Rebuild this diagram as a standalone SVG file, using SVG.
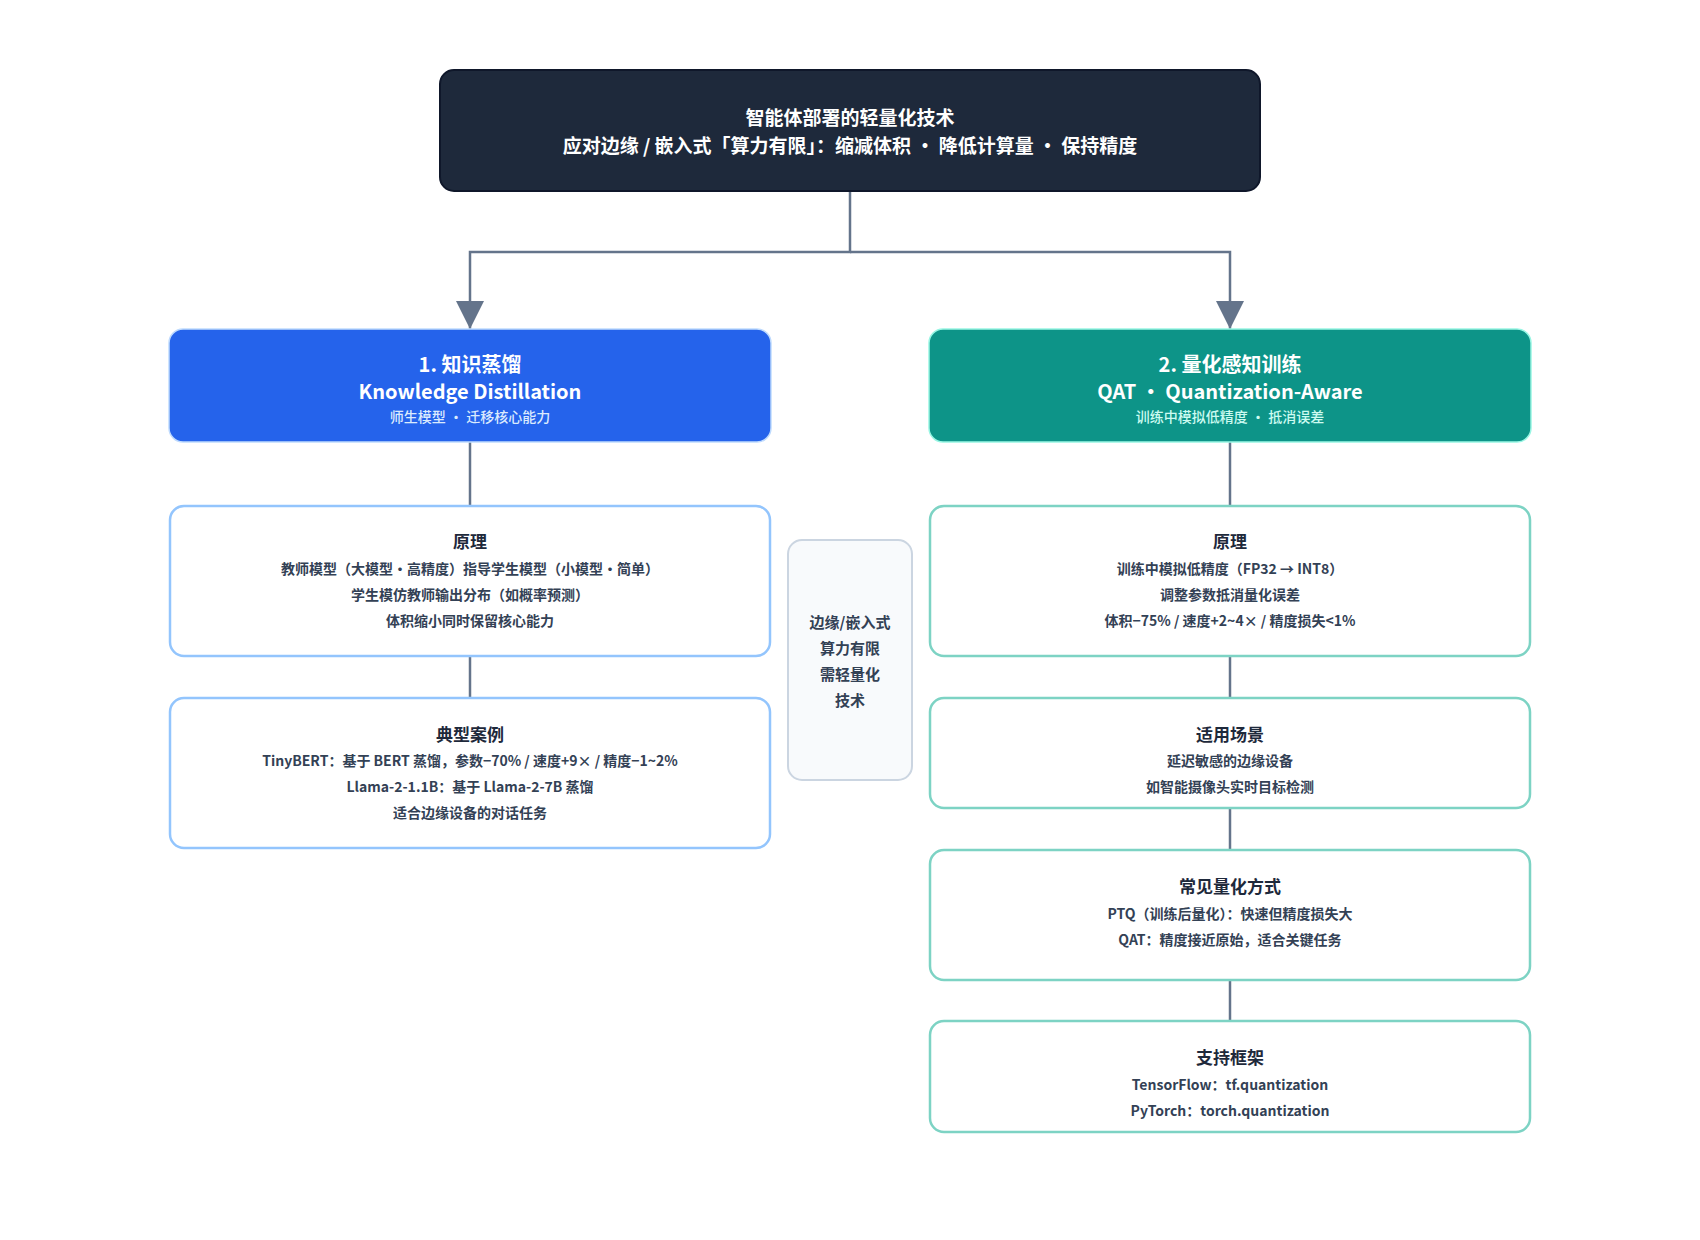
<svg xmlns="http://www.w3.org/2000/svg" width="1700" height="1240" viewBox="0 0 1700 1240">
<defs>
<marker id="arr" markerWidth="28" markerHeight="28" refX="28" refY="14" orient="auto" markerUnits="userSpaceOnUse" viewBox="0 0 28 28">
<path d="M0,0 L28,14 L0,28 Z" fill="#64748b"/>
</marker>
<style>
text{font-family:"Noto Sans CJK SC","Noto Sans",sans-serif;text-anchor:middle;dominant-baseline:central}
.top{fill:#1e293b;stroke:#0f172a;stroke-width:2}
.tt{fill:#ffffff;font-size:19px;font-weight:700}
.hl{fill:#2563eb;stroke:#bfdbfe;stroke-width:1.5}
.hr{fill:#0d9488;stroke:#99f6e4;stroke-width:1.5}
.h1{fill:#ffffff;font-size:20px;font-weight:700}
.h2{fill:#ffffff;font-size:20px;font-weight:700}
.h3l{fill:#dbeafe;font-size:14px;font-weight:500}
.h3r{fill:#ccfbf1;font-size:14px;font-weight:500}
.bl{fill:#ffffff;stroke:#93c5fd;stroke-width:2.5}
.br{fill:#ffffff;stroke:#7dd3c4;stroke-width:2.5}
.bm{fill:#f8fafc;stroke:#cbd5e1;stroke-width:2}
.ti{fill:#1e293b;font-size:17px;font-weight:700}
.tx{fill:#334155;font-size:14px;font-weight:600}
.tm{fill:#334155;font-size:15px;font-weight:600}
.c{fill:none;stroke:#64748b;stroke-width:2.5}
</style>
</defs>
<g id="connectors">
<path class="c" d="M850,191 L850,252 L470,252 L470,329" marker-end="url(#arr)"/>
<path class="c" d="M850,252 L1230,252 L1230,329" marker-end="url(#arr)"/>
<path class="c" d="M470,442 L470,505"/>
<path class="c" d="M470,656 L470,698"/>
<path class="c" d="M1230,442 L1230,505"/>
<path class="c" d="M1230,656 L1230,698"/>
<path class="c" d="M1230,808 L1230,850"/>
<path class="c" d="M1230,980 L1230,1021"/>
</g>
<g id="root">
<rect class="top" x="440" y="70" width="820" height="121" rx="14"/>
<text class="tt" x="850" y="116">智能体部署的轻量化技术</text>
<text class="tt" x="850" y="144">应对边缘 / 嵌入式「算力有限」：缩减体积 • 降低计算量 • 保持精度</text>
</g>
<g id="kd">
<rect class="hl" x="169" y="329" width="602" height="113" rx="14"/>
<text class="h1" x="470" y="363">1. 知识蒸馏</text>
<text class="h2" x="470" y="390">Knowledge Distillation</text>
<text class="h3l" x="470" y="416">师生模型 • 迁移核心能力</text>
</g>
<g id="qat">
<rect class="hr" x="929" y="329" width="602" height="113" rx="14"/>
<text class="h1" x="1230" y="363">2. 量化感知训练</text>
<text class="h2" x="1230" y="390">QAT • Quantization-Aware</text>
<text class="h3r" x="1230" y="416">训练中模拟低精度 • 抵消误差</text>
</g>
<g id="kd-principle">
<rect class="bl" x="170" y="506" width="600" height="150" rx="14"/>
<text class="ti" x="470" y="540">原理</text>
<text class="tx" x="470" y="568">教师模型（大模型・高精度）指导学生模型（小模型・简单）</text>
<text class="tx" x="470" y="594">学生模仿教师输出分布（如概率预测）</text>
<text class="tx" x="470" y="620">体积缩小同时保留核心能力</text>
</g>
<g id="kd-cases">
<rect class="bl" x="170" y="698" width="600" height="150" rx="14"/>
<text class="ti" x="470" y="733">典型案例</text>
<text class="tx" x="470" y="760">TinyBERT：基于 BERT 蒸馏，参数−70% / 速度+9× / 精度−1~2%</text>
<text class="tx" x="470" y="786">Llama-2-1.1B：基于 Llama-2-7B 蒸馏</text>
<text class="tx" x="470" y="812">适合边缘设备的对话任务</text>
</g>
<g id="middle">
<rect class="bm" x="788" y="540" width="124" height="240" rx="14"/>
<text class="tm" x="850" y="621">边缘/嵌入式</text>
<text class="tm" x="850" y="647">算力有限</text>
<text class="tm" x="850" y="673">需轻量化</text>
<text class="tm" x="850" y="699">技术</text>
</g>
<g id="qat-principle">
<rect class="br" x="930" y="506" width="600" height="150" rx="14"/>
<text class="ti" x="1230" y="540">原理</text>
<text class="tx" x="1230" y="568">训练中模拟低精度（FP32 → INT8）</text>
<text class="tx" x="1230" y="594">调整参数抵消量化误差</text>
<text class="tx" x="1230" y="620">体积−75% / 速度+2~4× / 精度损失&lt;1%</text>
</g>
<g id="qat-scenario">
<rect class="br" x="930" y="698" width="600" height="110" rx="14"/>
<text class="ti" x="1230" y="733">适用场景</text>
<text class="tx" x="1230" y="760">延迟敏感的边缘设备</text>
<text class="tx" x="1230" y="786">如智能摄像头实时目标检测</text>
</g>
<g id="qat-methods">
<rect class="br" x="930" y="850" width="600" height="130" rx="14"/>
<text class="ti" x="1230" y="885">常见量化方式</text>
<text class="tx" x="1230" y="913">PTQ（训练后量化）：快速但精度损失大</text>
<text class="tx" x="1230" y="939">QAT：精度接近原始，适合关键任务</text>
</g>
<g id="qat-frameworks">
<rect class="br" x="930" y="1021" width="600" height="111" rx="14"/>
<text class="ti" x="1230" y="1056">支持框架</text>
<text class="tx" x="1230" y="1084">TensorFlow：tf.quantization</text>
<text class="tx" x="1230" y="1110">PyTorch：torch.quantization</text>
</g>
</svg>
